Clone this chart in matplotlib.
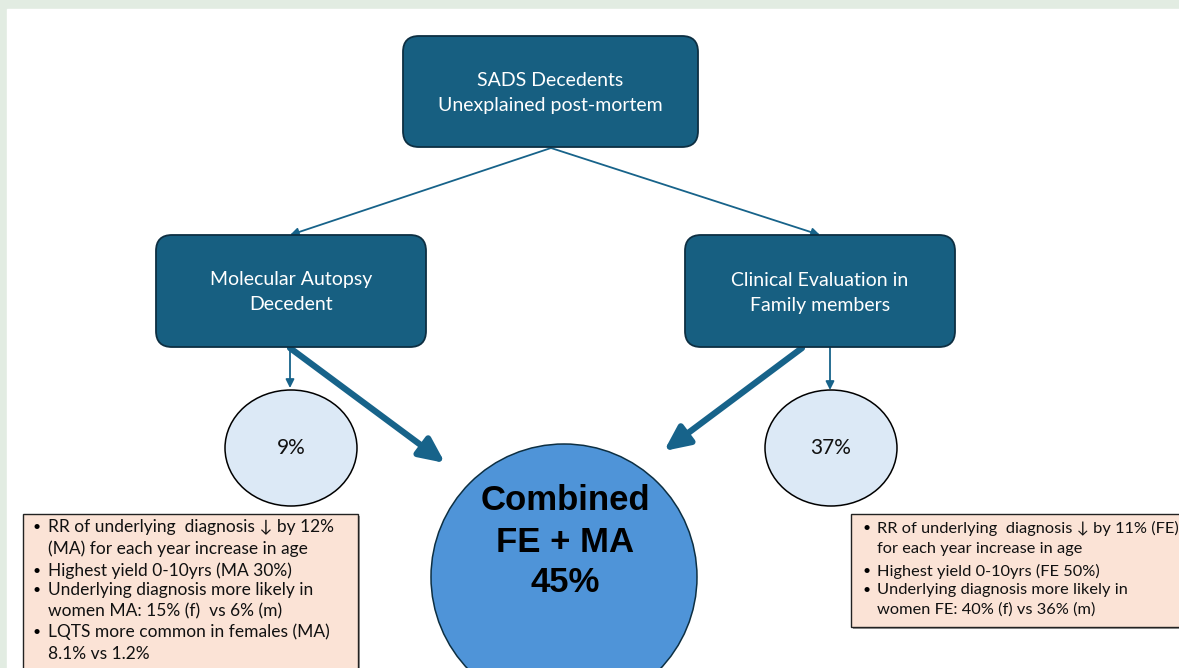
"""
Flow diagram: diagnostic yield in SADS decedents (molecular autopsy vs
family evaluation vs combined).
"""

import matplotlib
matplotlib.use("Agg")
import matplotlib.pyplot as plt
from matplotlib.patches import FancyBboxPatch, Ellipse, FancyArrowPatch, Rectangle

# ---------------------------------------------------------------------------
# Content
# ---------------------------------------------------------------------------
TOP_BOX   = ["SADS Decedents", "Unexplained post-mortem"]
LEFT_BOX  = ["Molecular Autopsy", "Decedent"]
RIGHT_BOX = ["Clinical Evaluation in", "Family members"]
YIELDS    = ["9%", "37%"]
COMBINED  = ["Combined", "FE + MA", "45%"]

MA_NOTES = [
    ["RR of underlying  diagnosis \u2193 by 12%", "(MA) for each year increase in age"],
    ["Highest yield 0-10yrs (MA 30%)"],
    ["Underlying diagnosis more likely in", "women MA: 15% (f)  vs 6% (m)"],
    ["LQTS more common in females (MA)", "8.1% vs 1.2%"],
]
FE_NOTES = [
    ["RR of underlying  diagnosis \u2193 by 11% (FE)", "for each year increase in age"],
    ["Highest yield 0-10yrs (FE 50%)"],
    ["Underlying diagnosis more likely in", "women FE: 40% (f) vs 36% (m)"],
]

# ---------------------------------------------------------------------------
# Style
# ---------------------------------------------------------------------------
W, H = 1179, 668
BG_EDGE  = "#e2ece2"
BOX_FILL = "#175f81"
BOX_EDGE = "#0d2f42"
SMALL_FILL = "#dce9f6"
BIG_FILL = "#4f94d8"
NOTE_FILL = "#fbe3d6"
ARROW = "#17638a"
FONT = ["Lato", "DejaVu Sans"]

fig = plt.figure(figsize=(W / 100, H / 100), dpi=100)
ax = fig.add_axes([0, 0, 1, 1])
ax.set_xlim(0, W)
ax.set_ylim(H, 0)
ax.axis("off")

# page frame
ax.add_patch(Rectangle((0, 0), W, H, color=BG_EDGE, zorder=0))
ax.add_patch(Rectangle((7, 9), W - 7, H - 9, color="white", zorder=0))


def rbox(x0, y0, x1, y1, lines):
    ax.add_patch(FancyBboxPatch((x0, y0), x1 - x0, y1 - y0,
                                boxstyle="round,pad=0,rounding_size=16",
                                fc=BOX_FILL, ec=BOX_EDGE, lw=1.3, zorder=3))
    cx = (x0 + x1) / 2
    cy = (y0 + y1) / 2
    for i, s in enumerate(lines):
        ax.text(cx, cy - 11 + 25 * i, s, color="white", fontsize=14,
                family=FONT, ha="center", va="center", zorder=4)


rbox(403, 36, 698, 147, TOP_BOX)
rbox(156, 235, 426, 347, LEFT_BOX)
rbox(685, 235, 955, 347, RIGHT_BOX)


def arrow(p0, p1, lw, head):
    ax.add_patch(FancyArrowPatch(p0, p1, arrowstyle=head, color=ARROW,
                                 lw=lw, shrinkA=0, shrinkB=0, zorder=2))


# thin arrows
arrow((551, 148), (290, 235), 1.3, "-|>,head_length=5,head_width=2.5")
arrow((551, 148), (820, 235), 1.3, "-|>,head_length=5,head_width=2.5")
arrow((290, 347), (290, 388), 1.3, "-|>,head_length=5,head_width=2.5")
arrow((830, 347), (830, 390), 1.3, "-|>,head_length=5,head_width=2.5")

# small yield ellipses
for (cx, cy), label in zip([(291, 448), (831, 448)], YIELDS):
    ax.add_patch(Ellipse((cx, cy), 132, 116, fc=SMALL_FILL, ec="black",
                         lw=1.1, zorder=3))
    ax.text(cx, cy, label, fontsize=15, family=FONT, ha="center",
            va="center", color="#111111", zorder=4)

# combined circle
ax.add_patch(Ellipse((564, 577), 266, 266, fc=BIG_FILL, ec="#0d2f42",
                     lw=1.1, zorder=3))
for i, s in enumerate(COMBINED):
    ax.text(565, 501 + 41 * i, s, fontsize=25, weight="bold",
            family="Liberation Sans", ha="center", va="center",
            color="black", zorder=4)

# thick arrows into the combined circle
arrow((290, 348), (445, 463), 4.5, "-|>,head_length=15,head_width=7")
arrow((802, 348), (664, 451), 4.5, "-|>,head_length=15,head_width=7")


def notes(x0, y0, x1, y1, items, ys, bx, fs):
    ax.add_patch(Rectangle((x0 + 2, y0 + 2), x1 - x0, y1 - y0,
                           fc="#9a9a9a", ec="none", zorder=2))
    ax.add_patch(Rectangle((x0, y0), x1 - x0, y1 - y0, fc=NOTE_FILL,
                           ec="#222222", lw=1.0, zorder=3))
    k = 0
    for item in items:
        for j, s in enumerate(item):
            y = ys[k]
            if j == 0:
                ax.text(bx, y, "\u2022", fontsize=10, family=FONT,
                        ha="left", va="center", zorder=4)
            ax.text(bx + 15, y, s, fontsize=fs, family=FONT, ha="left",
                    va="center", color="#111111", zorder=4)
            k += 1


notes(23, 514, 358, 690, MA_NOTES, [527, 549, 571, 590, 611, 632, 654], 33, 12.5)
notes(851, 514, 1190, 627, FE_NOTES, [528, 549, 571, 590, 610], 862, 11.8)

fig.savefig("out.png", dpi=100)
